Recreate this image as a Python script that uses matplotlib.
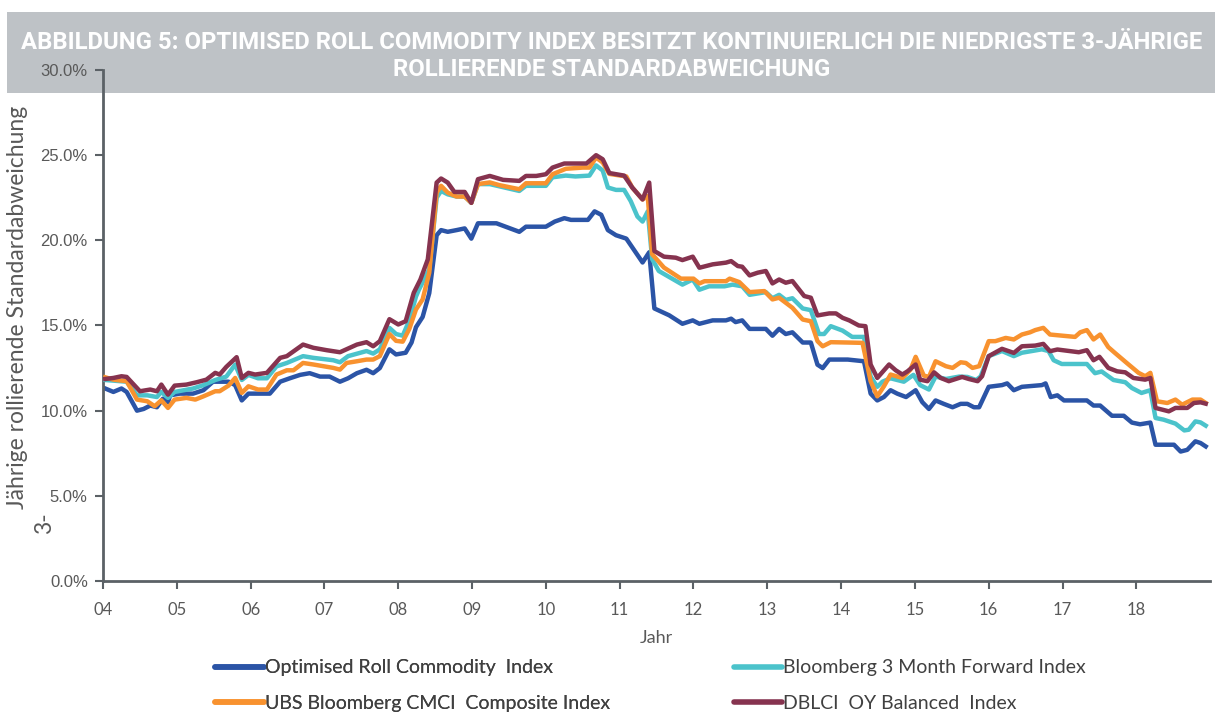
import numpy as np
import matplotlib.pyplot as plt
from matplotlib.patches import Rectangle
from matplotlib.lines import Line2D

# (year, rolling 3y std dev in %)
opt_roll = [(4.03, 11.3), (4.14, 11.1), (4.25, 11.3), (4.32, 11.1), (4.46, 10.0), (4.55, 10.1),
            (4.64, 10.3), (4.73, 10.2), (4.81, 10.7), (4.88, 10.5), (4.91, 10.9), (5.04, 11.0),
            (5.22, 11.0), (5.36, 11.2), (5.49, 11.7), (5.70, 11.7), (5.79, 11.5), (5.88, 10.6),
            (5.97, 11.0), (6.26, 11.0), (6.40, 11.7), (6.53, 11.9), (6.67, 12.1), (6.80, 12.2),
            (6.94, 12.0), (7.07, 12.0), (7.21, 11.7), (7.32, 11.9), (7.44, 12.2), (7.57, 12.4),
            (7.66, 12.2), (7.75, 12.5), (7.88, 13.6), (7.97, 13.3), (8.10, 13.4), (8.18, 14.0),
            (8.24, 14.9), (8.33, 15.5), (8.42, 16.9), (8.52, 20.3), (8.58, 20.6), (8.67, 20.5),
            (8.79, 20.6), (8.90, 20.7), (8.99, 20.1), (9.08, 21.0), (9.33, 21.0), (9.64, 20.5),
            (9.73, 20.8), (10.00, 20.8), (10.12, 21.1), (10.25, 21.3), (10.34, 21.2), (10.57, 21.2),
            (10.66, 21.7), (10.75, 21.5), (10.84, 20.6), (10.95, 20.3), (11.09, 20.1), (11.31, 18.7),
            (11.40, 19.3), (11.47, 16.0), (11.67, 15.6), (11.85, 15.1), (11.99, 15.3), (12.08, 15.1),
            (12.26, 15.3), (12.44, 15.3), (12.51, 15.4), (12.57, 15.2), (12.66, 15.3), (12.76, 14.8),
            (12.98, 14.8), (13.07, 14.4), (13.16, 14.8), (13.25, 14.5), (13.34, 14.6), (13.48, 14.0),
            (13.59, 14.0), (13.68, 12.7), (13.75, 12.5), (13.84, 13.0), (14.09, 13.0), (14.31, 12.9),
            (14.40, 11.0), (14.49, 10.6), (14.58, 10.8), (14.67, 11.2), (14.76, 11.0), (14.88, 10.8),
            (15.01, 11.2), (15.10, 10.5), (15.19, 10.1), (15.28, 10.6), (15.39, 10.4), (15.51, 10.2),
            (15.62, 10.4), (15.71, 10.4), (15.80, 10.2), (15.87, 10.2), (16.00, 11.4), (16.18, 11.5),
            (16.25, 11.6), (16.34, 11.2), (16.45, 11.4), (16.72, 11.5), (16.77, 11.6), (16.84, 10.8),
            (16.93, 10.9), (17.02, 10.6), (17.33, 10.6), (17.42, 10.3), (17.51, 10.3), (17.67, 9.7),
            (17.83, 9.7), (17.94, 9.3), (18.05, 9.2), (18.19, 9.3), (18.26, 8.0), (18.51, 8.0),
            (18.60, 7.6), (18.69, 7.7), (18.80, 8.2), (18.87, 8.1), (18.94, 7.9)]

bbg_3m = [(4.03, 11.8), (4.32, 11.7), (4.46, 10.9), (4.60, 10.9), (4.73, 10.8), (4.79, 11.1),
          (4.88, 10.75), (4.97, 11.1), (5.22, 11.3), (5.36, 11.5), (5.52, 11.8), (5.67, 12.0),
          (5.79, 12.7), (5.88, 11.8), (5.97, 12.1), (6.10, 11.9), (6.22, 11.9), (6.35, 12.6),
          (6.49, 12.8), (6.71, 13.2), (6.85, 13.1), (7.12, 12.96), (7.21, 12.84), (7.32, 13.2),
          (7.57, 13.5), (7.66, 13.35), (7.75, 13.6), (7.88, 14.86), (7.97, 14.5), (8.06, 14.4),
          (8.15, 15.3), (8.24, 16.7), (8.28, 17.1), (8.42, 18.3), (8.52, 22.5), (8.58, 22.9),
          (8.67, 22.7), (8.79, 22.57), (8.90, 22.57), (8.99, 22.2), (9.08, 23.3), (9.24, 23.3),
          (9.64, 22.9), (9.73, 23.2), (10.00, 23.2), (10.09, 23.7), (10.27, 23.8), (10.40, 23.75),
          (10.59, 23.8), (10.68, 24.4), (10.77, 24.1), (10.84, 23.1), (10.95, 22.96), (11.06, 22.96),
          (11.15, 22.3), (11.24, 21.4), (11.31, 21.1), (11.38, 21.7), (11.44, 18.9), (11.53, 18.2),
          (11.65, 17.9), (11.85, 17.4), (11.99, 17.7), (12.08, 17.1), (12.21, 17.3), (12.42, 17.3),
          (12.53, 17.4), (12.66, 17.3), (12.76, 16.8), (12.98, 16.96), (13.07, 16.6), (13.16, 16.8),
          (13.25, 16.5), (13.34, 16.6), (13.48, 16.0), (13.59, 15.9), (13.70, 14.5), (13.77, 14.5),
          (13.86, 14.96), (14.02, 14.7), (14.15, 14.33), (14.31, 14.33), (14.40, 12.0), (14.49, 11.4),
          (14.56, 11.7), (14.67, 11.9), (14.85, 11.7), (14.98, 12.1), (15.07, 11.5), (15.19, 11.24),
          (15.28, 12.0), (15.42, 11.86), (15.60, 12.0), (15.71, 11.98), (15.83, 11.8), (15.89, 12.0),
          (16.00, 13.2), (16.18, 13.5), (16.34, 13.2), (16.45, 13.4), (16.72, 13.6), (16.81, 13.5),
          (16.88, 12.96), (16.99, 12.74), (17.33, 12.74), (17.44, 12.2), (17.53, 12.3), (17.69, 11.8),
          (17.85, 11.67), (17.94, 11.33), (18.07, 11.04), (18.19, 11.2), (18.26, 9.57), (18.37, 9.47),
          (18.53, 9.24), (18.65, 8.84), (18.71, 8.88), (18.80, 9.37), (18.87, 9.31), (18.94, 9.12)]

ubs_cmci = [(4.03, 11.96), (4.14, 11.82), (4.32, 11.73), (4.46, 10.65), (4.60, 10.55), (4.70, 10.26),
            (4.79, 10.61), (4.88, 10.16), (4.97, 10.65), (5.13, 10.75), (5.25, 10.65), (5.36, 10.84),
            (5.52, 11.14), (5.58, 11.14), (5.70, 11.47), (5.79, 11.92), (5.88, 11.04), (5.97, 11.43),
            (6.10, 11.24), (6.22, 11.24), (6.35, 12.12), (6.49, 12.37), (6.58, 12.37), (6.71, 12.8),
            (6.85, 12.71), (7.12, 12.51), (7.21, 12.41), (7.30, 12.8), (7.44, 12.9), (7.57, 13.0),
            (7.66, 13.0), (7.75, 13.2), (7.88, 14.5), (7.97, 14.1), (8.06, 14.05), (8.15, 14.8),
            (8.24, 15.94), (8.33, 16.53), (8.42, 18.1), (8.52, 22.8), (8.58, 23.2), (8.67, 22.8),
            (8.79, 22.57), (8.90, 22.57), (8.99, 22.2), (9.08, 23.3), (9.24, 23.4), (9.37, 23.24),
            (9.64, 23.0), (9.73, 23.35), (10.00, 23.35), (10.09, 23.88), (10.27, 24.2), (10.50, 24.27),
            (10.59, 24.27), (10.68, 24.86), (10.77, 24.57), (10.86, 23.9), (11.09, 23.75), (11.17, 23.1),
            (11.31, 22.4), (11.38, 22.6), (11.44, 19.18), (11.60, 18.4), (11.83, 17.75), (12.00, 17.75),
            (12.08, 17.47), (12.15, 17.6), (12.44, 17.6), (12.49, 17.75), (12.62, 17.55), (12.76, 16.96),
            (12.96, 17.02), (13.07, 16.53), (13.16, 16.63), (13.34, 16.04), (13.48, 15.35), (13.59, 15.25),
            (13.68, 14.08), (13.75, 13.78), (13.86, 14.02), (14.09, 14.0), (14.29, 13.98), (14.40, 11.73),
            (14.49, 10.84), (14.58, 11.43), (14.67, 12.12), (14.83, 11.92), (14.94, 12.41), (15.01, 13.16),
            (15.12, 12.06), (15.19, 11.98), (15.28, 12.9), (15.42, 12.61), (15.51, 12.51), (15.62, 12.84),
            (15.69, 12.8), (15.78, 12.51), (15.87, 12.61), (16.00, 14.08), (16.09, 14.08), (16.23, 14.27),
            (16.34, 14.18), (16.45, 14.47), (16.56, 14.6), (16.63, 14.73), (16.74, 14.86), (16.83, 14.47),
            (17.17, 14.33), (17.24, 14.6), (17.33, 14.73), (17.42, 14.18), (17.51, 14.47), (17.62, 13.73),
            (17.71, 13.39), (17.87, 12.8), (18.03, 12.22), (18.12, 12.02), (18.19, 12.22), (18.28, 10.55),
            (18.42, 10.45), (18.53, 10.65), (18.62, 10.35), (18.76, 10.65), (18.87, 10.65), (18.94, 10.45)]

dblci_oy = [(4.03, 11.86), (4.14, 11.92), (4.25, 12.02), (4.32, 11.98), (4.50, 11.14), (4.64, 11.24),
            (4.73, 11.14), (4.79, 11.53), (4.88, 10.94), (4.97, 11.47), (5.13, 11.53), (5.27, 11.67),
            (5.40, 11.82), (5.52, 12.22), (5.58, 12.12), (5.67, 12.57), (5.81, 13.14), (5.88, 11.92),
            (5.97, 12.22), (6.06, 12.12), (6.22, 12.22), (6.40, 13.1), (6.49, 13.2), (6.71, 13.88),
            (6.85, 13.69), (7.03, 13.55), (7.21, 13.43), (7.44, 13.88), (7.57, 14.02), (7.66, 13.78),
            (7.75, 14.08), (7.88, 15.37), (8.00, 15.06), (8.10, 15.25), (8.21, 16.92), (8.30, 17.7),
            (8.40, 18.88), (8.52, 23.39), (8.58, 23.63), (8.67, 23.39), (8.76, 22.84), (8.90, 22.84),
            (8.99, 22.2), (9.08, 23.59), (9.24, 23.78), (9.42, 23.55), (9.64, 23.49), (9.73, 23.78),
            (9.87, 23.78), (10.00, 23.88), (10.09, 24.27), (10.25, 24.51), (10.55, 24.51), (10.68, 25.0),
            (10.77, 24.76), (10.86, 23.95), (11.06, 23.8), (11.17, 23.1), (11.31, 22.4), (11.40, 23.39),
            (11.47, 19.37), (11.60, 19.04), (11.76, 18.98), (11.85, 18.84), (11.99, 19.04), (12.08, 18.39),
            (12.26, 18.59), (12.44, 18.69), (12.51, 18.78), (12.60, 18.49), (12.66, 18.45), (12.76, 17.94),
            (12.87, 18.1), (12.98, 18.2), (13.07, 17.47), (13.16, 17.7), (13.25, 17.51), (13.34, 17.61),
            (13.50, 16.73), (13.59, 16.63), (13.68, 15.59), (13.84, 15.71), (13.93, 15.71), (14.02, 15.45),
            (14.11, 15.3), (14.24, 15.0), (14.33, 14.96), (14.40, 12.71), (14.49, 11.92), (14.65, 12.71),
            (14.74, 12.37), (14.83, 12.12), (14.90, 12.31), (15.01, 12.71), (15.07, 11.82), (15.17, 11.73),
            (15.26, 12.25), (15.35, 11.92), (15.46, 11.73), (15.64, 11.98), (15.73, 11.86), (15.85, 11.73),
            (15.91, 12.02), (16.00, 13.2), (16.18, 13.63), (16.34, 13.39), (16.45, 13.78), (16.63, 13.82),
            (16.74, 13.92), (16.83, 13.49), (16.93, 13.59), (17.22, 13.43), (17.33, 13.55), (17.42, 12.96),
            (17.50, 13.16), (17.62, 12.51), (17.74, 12.31), (17.85, 12.25), (17.96, 11.92), (18.12, 11.82),
            (18.19, 11.92), (18.26, 10.16), (18.44, 9.96), (18.53, 10.16), (18.69, 10.16), (18.78, 10.45),
            (18.87, 10.49), (18.94, 10.41)]

labels = ['Optimised Roll Commodity  Index', 'Bloomberg 3 Month Forward Index',
          'UBS Bloomberg CMCI  Composite Index', 'DBLCI  OY Balanced  Index']
colors = ['#2B54A6', '#4BC3CB', '#F8922F', '#86334F']
year_ticks = list(range(4, 19))
year_labels = ['%02d' % y for y in year_ticks]

grey_txt = '#595959'
spine_col = '#5B6166'

fig = plt.figure(figsize=(12.15, 7.12), dpi=100)

# title banner behind everything
fig.patches.append(Rectangle((0.006, 0.869), 0.994, 0.114, transform=fig.transFigure,
                             facecolor='#BEC2C6', edgecolor='none', zorder=-5))
title_font = dict(ha='center', va='center', color='white', fontsize=17.2, fontweight='bold',
                  family=['Roboto', 'DejaVu Sans'])
fig.text(0.503, 0.940, 'ABBILDUNG 5: OPTIMISED ROLL COMMODITY INDEX BESITZT KONTINUIERLICH DIE NIEDRIGSTE 3-JÄHRIGE',
         **title_font)
fig.text(0.503, 0.903, 'ROLLIERENDE STANDARDABWEICHUNG', **title_font)

ax = fig.add_axes([0.0848, 0.184, 0.9112, 0.7177])
ax.patch.set_alpha(0)

series = [opt_roll, bbg_3m, ubs_cmci, dblci_oy]
for idx in [1, 0, 2, 3]:
    arr = np.array(series[idx])
    ax.plot(arr[:, 0], arr[:, 1], color=colors[idx], lw=3.2, solid_joinstyle='round', zorder=2 + idx)
handles = [Line2D([], [], color=c, lw=4, solid_capstyle='round') for c in colors]

ax.set_xlim(4, 19.0)
ax.set_ylim(0, 30)
ax.set_xticks(year_ticks)
ax.set_xticklabels(year_labels, family='Lato', fontsize=12, color=grey_txt)
ax.set_yticks(np.arange(0, 31, 5))
ax.set_yticklabels(['%.1f%%' % v for v in np.arange(0, 31, 5)], family='Liberation Sans',
                   fontsize=12, color=grey_txt)
for s in ['top', 'right']:
    ax.spines[s].set_visible(False)
for s in ['left', 'bottom']:
    ax.spines[s].set_color(spine_col)
    ax.spines[s].set_linewidth(2)
ax.tick_params(axis='both', direction='out', length=6, width=1.5, color=spine_col, pad=5)
ax.tick_params(axis='x', pad=9)

ax.set_xlabel('Jahr', family='Lato', fontsize=13, color=grey_txt, labelpad=9)
# the y label renders as two pieces in the source chart
fig.text(0.0148, 0.568, 'Jährige rollierende Standardabweichung', rotation=90,
         ha='center', va='center', family='Lato', fontsize=16.5, color=grey_txt)
fig.text(0.037, 0.265, '3-', rotation=90, ha='center', va='center',
         family='Lato', fontsize=16.5, color=grey_txt)

leg_kw = dict(loc='upper left', frameon=False, handlelength=2.5, handletextpad=0.05,
              labelspacing=0.95, borderaxespad=0, borderpad=0,
              prop={'family': 'Lato', 'size': 14}, labelcolor='#404040')
leg1 = fig.legend([handles[0], handles[2]], [labels[0], labels[2]],
                  bbox_to_anchor=(0.177, 0.074), **leg_kw)
leg2 = fig.legend([handles[1], handles[3]], [labels[1], labels[3]],
                  bbox_to_anchor=(0.604, 0.074), **leg_kw)
fig.add_artist(leg1)

fig.savefig('out.png', dpi=100)
